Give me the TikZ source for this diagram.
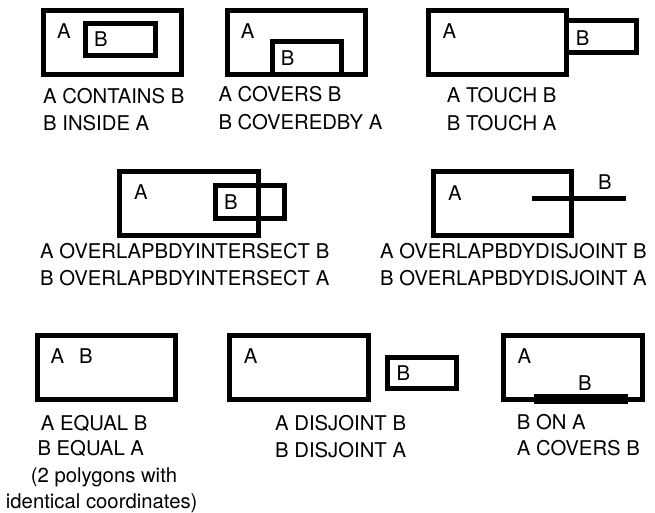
\documentclass[tikz,border=0pt]{standalone}
\usepackage{fontspec}
\setmainfont{TeX Gyre Heros}
\begin{document}
\begin{tikzpicture}[x=1pt,y=-1pt,
  poly/.style={draw=black, line width=5pt, line join=miter},
  bline/.style={draw=black, line width=5pt, line cap=butt},
  lbl/.style={inner sep=0pt, font=\fontsize{20.3}{24}\selectfont},
  captxt/.style={inner sep=0pt, anchor=base west, font=\fontsize{20.3}{24}\selectfont}]
\useasboundingbox (0,0) rectangle (655,512);
% Panel 1: contains / inside
\draw[poly] (43,10) rectangle (181.5,74);
\draw[poly] (85.5,23.5) rectangle (155.5,55.5);
\node[lbl] (p1a) at (64,31) {A};
\node[lbl] (p1b) at (101,39) {B};
\node[captxt] (p1t1) at (43,103) {A CONTAINS B};
\node[captxt] (p1t2) at (43,130.7) {B INSIDE A};
% Panel 2: covers / coveredby
\draw[poly] (227.5,10.8) rectangle (365,74);
\draw[poly] (272.5,41.8) rectangle (341.5,74);
\node[lbl] (p2a) at (247.7,31) {A};
\node[lbl] (p2b) at (287.7,58.3) {B};
\node[captxt] (p2t1) at (218.3,101.7) {A COVERS B};
\node[captxt] (p2t2) at (218.3,129) {B COVEREDBY A};
% Panel 3: touch
\draw[poly] (428.5,10.2) rectangle (566.8,74.2);
\draw[poly] (566.8,20.8) rectangle (636.8,52.5);
\node[lbl] (p3a) at (449.3,31) {A};
\node[lbl] (p3b) at (582.7,37.7) {B};
\node[captxt] (p3t1) at (446.7,102.3) {A TOUCH B};
\node[captxt] (p3t2) at (446.7,130) {B TOUCH A};
% Panel 4: overlapbdyintersect
\draw[poly] (119.8,171.8) rectangle (258.2,235.8);
\draw[poly] (215.8,185.2) rectangle (284.8,218.2);
\node[lbl] (p4a) at (141,191.7) {A};
\node[lbl] (p4b) at (231,201.7) {B};
\node[captxt] (p4t1) at (40,258.3) {A OVERLAPBDYINTERSECT B};
\node[captxt] (p4t2) at (40,285.7) {B OVERLAPBDYINTERSECT A};
% Panel 5: overlapbdydisjoint
\draw[poly] (433.2,171.8) rectangle (571.5,235.8);
\coordinate (p5s) at (531.7,198.3);
\coordinate (p5e) at (625.7,198.3);
\draw[bline] (p5s) -- (p5e);
\node[lbl] (p5a) at (455,192.7) {A};
\node[lbl] (p5b) at (605,181.7) {B};
\node[captxt] (p5t1) at (380,258.3) {A OVERLAPBDYDISJOINT B};
\node[captxt] (p5t2) at (380,285.7) {B OVERLAPBDYDISJOINT A};
% Panel 6: equal
\draw[poly] (37.5,335.8) rectangle (175.8,399.8);
\node[lbl] (p6a) at (57.3,355.7) {A};
\node[lbl] (p6b) at (86,355.7) {B};
\node[captxt] (p6t1) at (40.7,430) {A EQUAL B};
\node[captxt] (p6t2) at (37.3,455.7) {B EQUAL A};
\node[captxt, anchor=base] (p6t3) at (104,482.7) {(2 polygons with};
\node[captxt, anchor=base] (p6t4) at (101.7,508.7) {identical coordinates)};
% Panel 7: disjoint
\draw[poly] (229.8,335.8) rectangle (368.5,399.8);
\draw[poly] (387.5,357.5) rectangle (456.8,388.5);
\node[lbl] (p7a) at (250.7,355.7) {A};
\node[lbl] (p7b) at (403.3,373.3) {B};
\node[captxt] (p7t1) at (275,430.7) {A DISJOINT B};
\node[captxt] (p7t2) at (275,457.7) {B DISJOINT A};
% Panel 8: on
\draw[poly] (503.2,335.8) rectangle (642.5,399.8);
\coordinate (p8s) at (534.3,398.8);
\coordinate (p8e) at (628.3,398.8);
\draw[bline, line width=10pt] (p8s) -- (p8e);
\node[lbl] (p8a) at (524.3,355.7) {A};
\node[lbl] (p8b) at (585,382.7) {B};
\node[captxt] (p8t1) at (516.7,429) {B ON A};
\node[captxt] (p8t2) at (516.7,455.7) {A COVERS B};
\end{tikzpicture}
\end{document}
